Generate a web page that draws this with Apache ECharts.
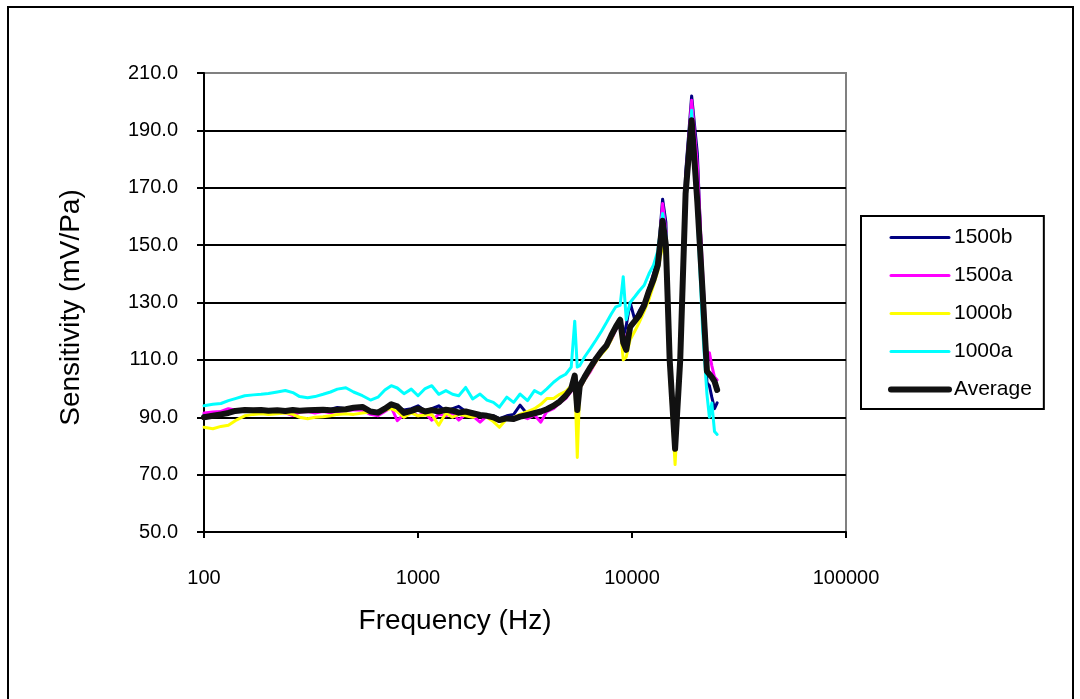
<!DOCTYPE html>
<html>
<head>
<meta charset="utf-8">
<title>Sensitivity</title>
<script src="https://cdn.jsdelivr.net/npm/echarts@6/dist/echarts.min.js"></script>
<style>
  html, body { margin: 0; padding: 0; background: #fff; }
  #chart { width: 1080px; height: 699px; }
</style>
</head>
<body>
<div id="chart"></div>
<script>
// frequency points (Hz), shared by all series
const freqs = [100, 110, 120, 130, 140, 155, 170, 185, 200, 220,
  240, 260, 280, 305, 330, 360, 390, 420, 460, 500,
  550, 600, 650, 700, 750, 800, 860, 930, 1000, 1080,
  1160, 1250, 1350, 1450, 1550, 1670, 1800, 1950, 2100, 2250,
  2400, 2600, 2800, 3000, 3250, 3500, 3750, 4000, 4300, 4600,
  4900, 5200, 5400, 5550, 5700, 6000, 6400, 6800, 7200, 7600,
  8000, 8400, 8800, 9100, 9400, 9800, 10300, 10800, 11400, 12000,
  12600, 13200, 13900, 14400, 15000, 15900, 16800, 17800, 19000, 20200,
  21400, 22400, 23000, 23600, 24300, 25000]

const s1500b = [91.0, 91.3, 91.8, 92.0, 92.3, 92.5, 92.3, 92.6, 92.2, 92.5,
  92.3, 92.4, 92.5, 92.2, 92.6, 92.4, 92.8, 93.4, 93.0, 93.5,
  93.2, 91.8, 92.0, 93.2, 94.0, 93.5, 92.5, 93.0, 94.0, 92.2,
  93.0, 94.0, 92.0, 93.0, 93.8, 92.0, 91.8, 91.0, 90.8, 90.5,
  89.5, 90.5, 91.0, 94.2, 91.0, 92.0, 91.5, 93.0, 93.5, 95.0,
  97.5, 100.0, 104.0, 99.0, 102.0, 104.0, 107.5, 110.5, 113.0, 115.5,
  118.5, 121.5, 123.0, 118.0, 122.0, 130.0, 124.0, 127.0, 130.0, 135.0,
  140.0, 145.0, 166.0, 158.0, 112.0, 80.0, 112.0, 175.0, 202.0, 182.0,
  135.0, 102.0, 101.0, 97.0, 93.0, 95.0]

const s1500a = [91.5, 91.8, 92.0, 93.0, 92.5, 92.3, 92.0, 92.4, 92.2, 92.0,
  91.5, 90.6, 91.8, 92.0, 91.5, 92.0, 91.6, 92.0, 92.3, 92.6,
  92.4, 91.0, 90.5, 92.0, 93.5, 88.8, 91.0, 92.0, 90.5, 91.5,
  89.0, 91.0, 90.5, 91.5, 89.0, 91.0, 90.5, 88.3, 90.5, 89.5,
  88.5, 90.0, 89.0, 90.5, 89.5, 90.8, 88.3, 92.0, 93.0, 95.0,
  96.5, 99.0, 103.0, 96.0, 100.0, 103.0, 106.0, 109.5, 112.5, 114.5,
  117.0, 120.5, 122.5, 116.0, 118.0, 122.0, 123.0, 126.0, 129.0, 134.0,
  139.0, 144.0, 164.5, 155.0, 111.0, 79.0, 111.0, 172.0, 200.5, 178.0,
  140.0, 112.0, 112.5, 108.0, 104.0, 103.0]

const s1000b = [86.5, 86.0, 86.8, 87.2, 88.8, 90.5, 91.0, 91.2, 91.0, 91.2,
  91.5, 91.0, 90.0, 89.5, 90.0, 90.2, 90.5, 91.0, 91.2, 91.0,
  91.5, 91.8, 91.2, 92.5, 93.0, 92.0, 90.0, 91.5, 90.5, 90.8,
  91.0, 87.2, 91.5, 90.0, 91.0, 90.5, 90.0, 91.0, 90.0, 88.5,
  86.5, 89.5, 90.0, 91.0, 92.0, 93.0, 94.5, 96.5, 96.5, 98.0,
  99.0, 101.0, 103.5, 76.0, 100.0, 103.0, 106.5, 109.5, 112.0, 114.0,
  117.0, 121.0, 122.5, 110.0, 111.0, 117.0, 120.0, 123.0, 127.0, 131.0,
  136.0, 141.0, 150.0, 146.0, 105.0, 73.5, 108.0, 165.0, 192.0, 160.0,
  132.0, 108.0, 105.0, 103.5, 102.0, 101.0]

const s1000a = [94.0, 94.5, 94.8, 95.8, 96.5, 97.5, 97.8, 98.0, 98.3, 98.8,
  99.3, 98.6, 97.2, 96.8, 97.2, 98.0, 98.8, 99.8, 100.3, 98.8,
  97.5, 96.0, 97.0, 99.5, 101.0, 100.2, 98.2, 99.8, 97.5, 100.0,
  101.0, 98.0, 99.3, 98.0, 97.5, 100.4, 96.4, 98.1, 96.0, 95.2,
  93.5, 97.0, 95.2, 98.1, 95.8, 99.3, 98.1, 99.9, 102.2, 103.9,
  105.0, 107.5, 123.5, 107.5, 108.0, 111.0, 114.0, 117.0, 120.0, 123.0,
  126.0, 128.5, 129.0, 139.0, 124.0, 130.0, 132.0, 134.0, 136.0, 140.0,
  143.0, 148.0, 161.0, 154.0, 110.0, 80.0, 112.0, 170.0, 197.0, 160.0,
  120.0, 98.0, 90.0, 95.0, 85.0, 84.0]

const average = [90.0, 90.5, 91.0, 91.5, 92.2, 92.5, 92.4, 92.5, 92.3, 92.4,
  92.2, 92.5, 92.3, 92.4, 92.5, 92.6, 92.4, 92.6, 92.8, 93.3,
  93.6, 92.0, 91.6, 93.0, 94.5, 93.8, 91.5, 92.2, 93.0, 92.0,
  92.5, 92.0, 92.6, 92.3, 91.6, 92.0, 91.4, 90.8, 90.5, 90.0,
  89.0, 89.6, 89.4, 90.2, 90.8, 91.4, 92.0, 92.8, 94.0, 95.5,
  97.5, 100.0, 104.5, 92.5, 101.0, 104.0, 107.5, 110.5, 113.0, 115.0,
  118.5, 121.5, 124.0, 116.0, 113.5, 121.5, 123.5, 125.5, 129.0, 134.0,
  138.0, 143.0, 158.5, 150.0, 110.0, 79.0, 110.0, 168.0, 193.5, 165.0,
  133.0, 106.0, 105.0, 104.0, 102.5, 99.5]

const seriesNames = ['1500b', '1500a', '1000b', '1000a', 'Average']
const seriesValues = [s1500b, s1500a, s1000b, s1000a, average]
const seriesColors = ['#000080', '#ff00ff', '#ffff00', '#00ffff', '#111111']
const yTicks = [50, 70, 90, 110, 130, 150, 170, 190, 210]

const font = 'Liberation Sans, Arial, sans-serif'
const myChart = echarts.init(document.getElementById('chart'))

const series = seriesNames.map((name, k) => ({
  name: name,
  type: 'line',
  symbol: 'none',
  showSymbol: false,
  data: freqs.map((f, i) => [f, seriesValues[k][i]]),
  color: seriesColors[k],
  lineStyle: {
    color: seriesColors[k],
    width: name === 'Average' ? 6 : 3,
    join: 'round',
    cap: 'round'
  },
  z: 2 + k
}))

const option = {
  animation: false,
  backgroundColor: '#fff',
  graphic: [
    {
      type: 'rect',
      shape: { x: 8, y: 7, width: 1065, height: 720 },
      style: { fill: 'none', stroke: '#000', lineWidth: 2 },
      silent: true
    }
  ],
  grid: {
    left: 204,
    top: 73,
    right: 234,
    bottom: 167,
    show: true,
    borderColor: '#808080',
    borderWidth: 2
  },
  legend: {
    orient: 'vertical',
    left: 861,
    top: 216,
    data: seriesNames.map((name, k) => ({
      name: name,
      lineStyle: { width: name === 'Average' ? 6 : 3, color: seriesColors[k] }
    })),
    backgroundColor: '#fff',
    borderColor: '#000',
    borderWidth: 2,
    borderRadius: 0,
    padding: [11, 12, 9, 27],
    itemWidth: 58,
    itemHeight: 14,
    itemGap: 17,
    itemStyle: { opacity: 0 },
    textStyle: {
      fontFamily: font,
      fontSize: 21,
      lineHeight: 21,
      color: '#000'
    }
  },
  xAxis: {
    type: 'log',
    logBase: 10,
    min: 100,
    max: 100000,
    name: 'Frequency (Hz)',
    nameLocation: 'middle',
    nameGap: 75,
    nameTextStyle: {
      fontFamily: font,
      fontSize: 28,
      color: '#000',
      padding: [0, 140, 0, 0]
    },
    axisLine: { lineStyle: { color: '#000', width: 2 } },
    axisTick: { show: true, length: 6, lineStyle: { color: '#000', width: 2 } },
    minorTick: { show: false },
    splitLine: { show: false },
    axisLabel: {
      fontFamily: font,
      fontSize: 20,
      color: '#000',
      margin: 36,
      formatter: v => String(Math.round(v))
    }
  },
  yAxis: {
    type: 'value',
    min: yTicks[0],
    max: yTicks[yTicks.length - 1],
    interval: 20,
    name: 'Sensitivity (mV/Pa)',
    nameLocation: 'middle',
    nameGap: 119,
    nameTextStyle: {
      fontFamily: font,
      fontSize: 28,
      color: '#000',
      padding: [0, 10, 0, 0]
    },
    axisLine: { show: true, lineStyle: { color: '#000', width: 2 } },
    axisTick: { show: true, length: 7, lineStyle: { color: '#000', width: 2 } },
    splitLine: {
      show: true,
      lineStyle: {
        color: ['#000', '#000', '#000', '#000', '#000', '#000', '#000', '#000', '#808080'],
        width: 2
      }
    },
    axisLabel: {
      fontFamily: font,
      fontSize: 20,
      color: '#000',
      margin: 26,
      formatter: v => v.toFixed(1)
    }
  },
  series: series
}

myChart.setOption(option)
</script>
</body>
</html>
